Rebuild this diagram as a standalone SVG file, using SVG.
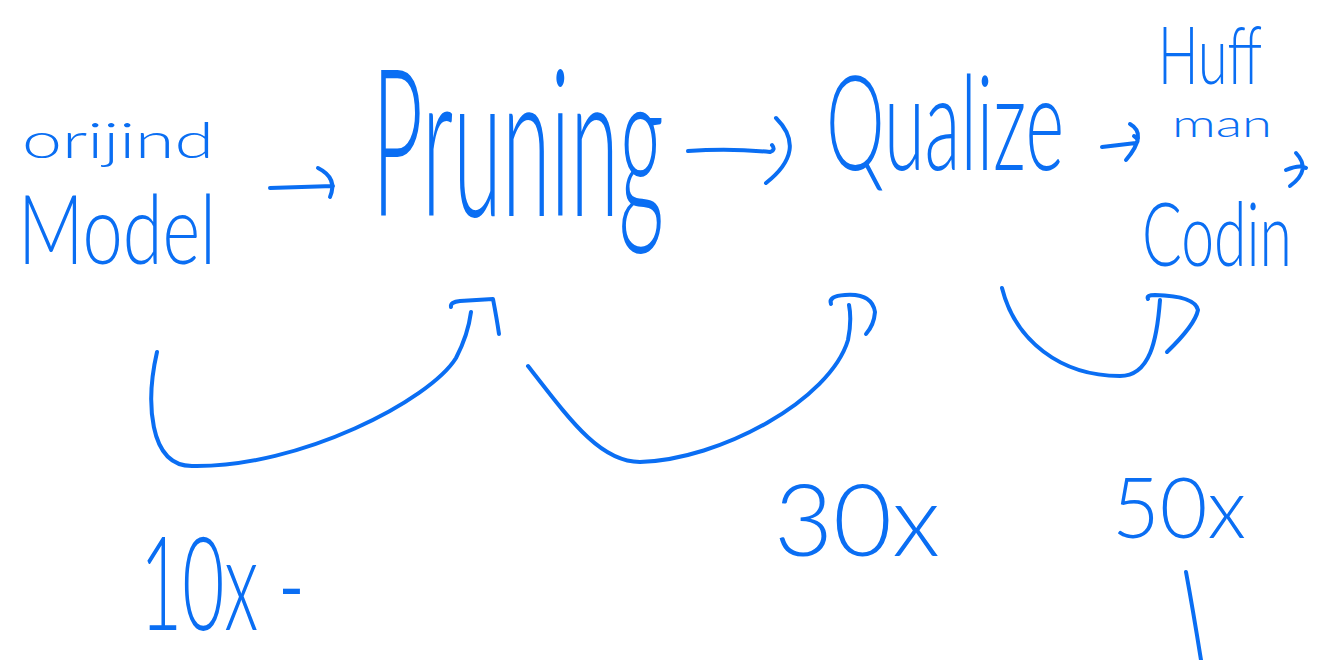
<svg xmlns="http://www.w3.org/2000/svg" width="1323" height="660" viewBox="0 0 1323 660">
<style>
.s{fill:none;stroke:#0a6ef3;stroke-width:4;stroke-linecap:round;stroke-linejoin:round}
.t{fill:#0a6ef3;font-family:Lato,"Liberation Sans",Arial,sans-serif;font-weight:300}
</style>
<rect width="1323" height="660" fill="#fff"/>
<g id="original-model">
<text class="t" x="22" y="158" font-size="50" textLength="192" lengthAdjust="spacingAndGlyphs">orijind</text>
<text class="t" transform="translate(18,264) scale(1,1.32)" x="0" y="0" font-size="73" textLength="198" lengthAdjust="spacingAndGlyphs">Model</text>
</g>
<g id="pruning">
<text class="t" transform="translate(372,216) scale(1,2.36)" x="0" y="0" font-size="87" textLength="292" lengthAdjust="spacingAndGlyphs">Pruning</text>
</g>
<g id="quantize">
<text class="t" transform="translate(826,170) scale(1,1.78)" x="0" y="0" font-size="74" textLength="238" lengthAdjust="spacingAndGlyphs">Qualize</text>
</g>
<g id="huffman-coding">
<text class="t" transform="translate(1158,84) scale(1,1.48)" x="0" y="0" font-size="54" textLength="104" lengthAdjust="spacingAndGlyphs">Huff</text>
<text class="t" x="1172" y="137" font-size="38" textLength="100" lengthAdjust="spacingAndGlyphs">man</text>
<text class="t" transform="translate(1142,266) scale(1,1.5)" x="0" y="0" font-size="59" textLength="150" lengthAdjust="spacingAndGlyphs">Codin</text>
</g>
<g id="labels">
<text class="t" transform="translate(140,630) scale(1,1.72)" x="0" y="0" font-size="76" textLength="165" lengthAdjust="spacingAndGlyphs">10x -</text>
<text class="t" x="774" y="556" font-size="101" textLength="166" lengthAdjust="spacingAndGlyphs">30x</text>
<text class="t" x="1112" y="538" font-size="84" textLength="134" lengthAdjust="spacingAndGlyphs">50x</text>
</g>
<g id="connectors">
<path class="s" d="M270 188 L333 186 M318 168 Q338 178 330 197"/>
<path class="s" d="M688 151 Q730 148 770 152 Q776 150 772 145 M776 118 Q808 150 766 183"/>
<path class="s" d="M1102 147 L1136 143 Q1140 140 1134 136 M1130 124 Q1148 134 1126 160"/>
<path class="s" d="M1286 170 Q1300 164 1306 168 M1296 153 Q1312 170 1290 186"/>
<path class="s" d="M157 352 C146 400 148 466 192 466 C300 468 430 400 456 358 Q468 335 471 312"/>
<path class="s" d="M451 307 Q450 302 460 301 L493 299 Q497 320 499 334"/>
<path class="s" d="M528 366 C570 420 600 462 640 462 C720 460 830 400 848 340 Q852 320 849 305"/>
<path class="s" d="M831 304 Q828 296 845 295 Q872 293 875 312 Q874 325 866 334"/>
<path class="s" d="M1002 288 C1015 340 1060 376 1120 376 C1150 376 1157 340 1160 300"/>
<path class="s" d="M1148 299 Q1146 295 1155 295 Q1195 296 1198 310 Q1195 325 1167 352"/>
<path class="s" d="M1186 572 Q1193 610 1201 660"/>
</g>
</svg>
